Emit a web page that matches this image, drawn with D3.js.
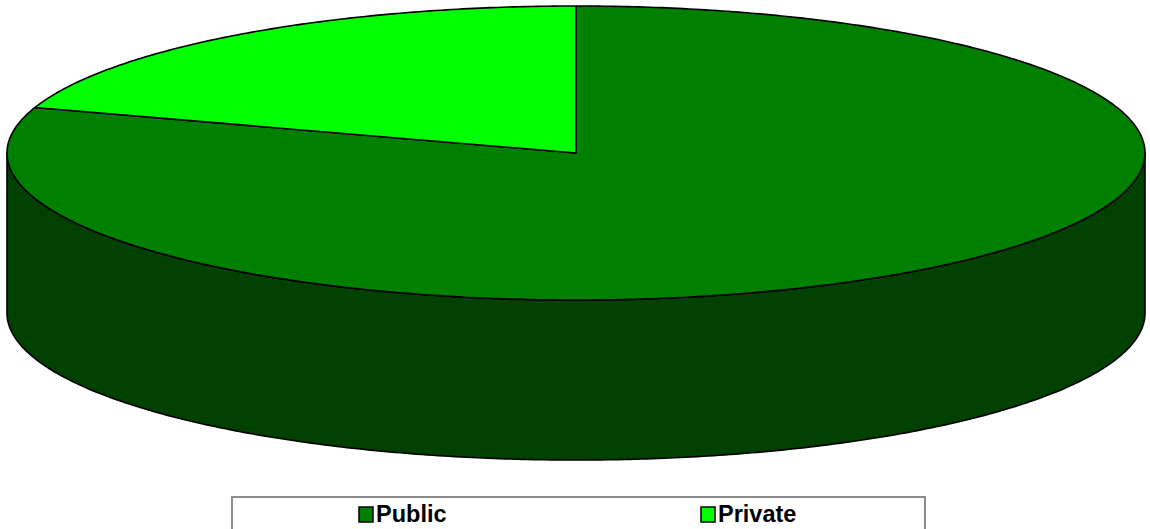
<!DOCTYPE html>
<html><head><meta charset="utf-8">
<script src="https://cdn.jsdelivr.net/npm/d3@7"></script>
<style>html,body{margin:0;padding:0;background:#fff;}svg{display:block;}</style>
</head><body>
<svg id="chart" width="1150" height="529"></svg>
<script>
const categories = ["Public", "Private"];
const values = [80, 20];
const topColors = ["#008000", "#00ff00"];
const sideColors = ["#004000", "#008000"];

const svg = d3.select("#chart");
const cx = 576, cy = 153, rx = 569, ry = 147, depth = 160;

const pie = d3.pie().sort(null).value(d => d);
const arcs = pie(values);

// elliptical projection: angle 0 at top, clockwise
const px = a => cx + rx * Math.sin(a);
const py = a => cy - ry * Math.cos(a);

function arcPoints(a0, a1, dy) {
  const n = Math.max(2, Math.ceil(Math.abs(a1 - a0) / 0.01));
  return d3.range(n + 1).map(i => {
    const a = a0 + (a1 - a0) * i / n;
    return [px(a), py(a) + dy];
  });
}
const line = d3.line();

// side walls (visible front half: angles PI/2 .. 3PI/2)
const g = svg.append("g");
arcs.forEach((d, i) => {
  const s = Math.max(d.startAngle, Math.PI / 2);
  const e = Math.min(d.endAngle, 3 * Math.PI / 2);
  if (e <= s) return;
  const pts = arcPoints(s, e, 0).concat(arcPoints(e, s, depth));
  g.append("path")
    .attr("d", line(pts) + "Z")
    .attr("fill", sideColors[i])
    .attr("stroke", "#000")
    .attr("stroke-width", 1.6)
    .attr("stroke-linejoin", "round");
});

// top slices
arcs.forEach((d, i) => {
  const pts = [[cx, cy]].concat(arcPoints(d.startAngle, d.endAngle, 0));
  g.append("path")
    .attr("d", line(pts) + "Z")
    .attr("fill", topColors[i])
    .attr("stroke", "#000")
    .attr("stroke-width", 1.6)
    .attr("stroke-linejoin", "round");
});

// legend
const leg = svg.append("g");
leg.append("rect")
  .attr("x", 232).attr("y", 497).attr("width", 693).attr("height", 40)
  .attr("fill", "#fff").attr("stroke", "#8c8c8c").attr("stroke-width", 2);
const legX = [359, 701];
categories.forEach((c, i) => {
  leg.append("rect")
    .attr("x", legX[i]).attr("y", 507).attr("width", 14).attr("height", 15)
    .attr("fill", topColors[i]).attr("stroke", "#000").attr("stroke-width", 1.5);
  leg.append("text")
    .attr("x", legX[i] + 17).attr("y", 522)
    .attr("font-family", "'Liberation Sans', Arial, sans-serif")
    .attr("font-weight", "bold").attr("font-size", 23.5)
    .attr("fill", "#000")
    .text(c);
});
</script>
</body></html>
